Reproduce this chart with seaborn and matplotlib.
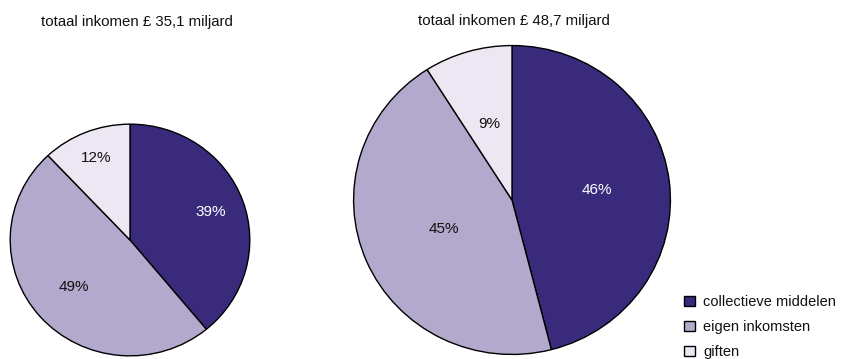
import matplotlib
matplotlib.use("Agg")
import matplotlib.pyplot as plt
from matplotlib.patches import Patch
import numpy as np
import seaborn as sns

# Income composition, two years
categories = ["collectieve middelen", "eigen inkomsten", "giften"]
left_values = [39, 49, 12]
right_values = [46, 45, 9]
left_title = "totaal inkomen £ 35,1 miljard"
right_title = "totaal inkomen £ 48,7 miljard"

sns.set_theme(style="white")
plt.rcParams["font.family"] = ["Liberation Sans", "DejaVu Sans"]

colors = ["#3a2a7c", "#b2a9cc", "#ece7f2"]
label_colors = ["white", "#111111", "#111111"]

W, H = 843, 359
fig = plt.figure(figsize=(W / 100, H / 100), dpi=100)


def axes_px(x0, x1, y0, y1):
    return fig.add_axes([x0 / W, 1 - y1 / H, (x1 - x0) / W, (y1 - y0) / H])


def draw_pie(ax, values, dists):
    wedges, texts, autotexts = ax.pie(
        values, colors=colors, startangle=90, counterclock=False,
        autopct=lambda p: f"{p:.0f}%", radius=1.0,
        wedgeprops=dict(edgecolor="black", linewidth=1.0),
        textprops=dict(fontsize=11),
    )
    for w, t, c, d in zip(wedges, autotexts, label_colors, dists):
        ang = np.deg2rad((w.theta1 + w.theta2) / 2)
        t.set_position((d * np.cos(ang), d * np.sin(ang)))
        t.set_color(c)
    ax.set_xlim(-1.01, 1.01)
    ax.set_ylim(-1.01, 1.01)
    ax.set_aspect("auto")
    ax.axis("off")


ax1 = axes_px(9, 251, 123, 357)
draw_pie(ax1, left_values, [0.72, 0.62, 0.76])

ax2 = axes_px(352, 672, 44, 356)
draw_pie(ax2, right_values, [0.54, 0.47, 0.51])

fig.text(137 / W, 1 - 22 / H, left_title, ha="center", va="center",
         fontsize=10.8, color="#111111")
fig.text(514 / W, 1 - 21 / H, right_title, ha="center", va="center",
         fontsize=10.8, color="#111111")

handles = [Patch(facecolor=c, edgecolor="black", linewidth=1.0) for c in colors]
fig.legend(handles, categories, loc="upper left",
           bbox_to_anchor=(684 / W, 1 - 295 / H), frameon=False,
           fontsize=10.5, handlelength=0.72, handleheight=0.72,
           handletextpad=0.6, labelspacing=0.76, borderaxespad=0, borderpad=0,
           labelcolor="#111111")

fig.savefig("out.png", dpi=100)
